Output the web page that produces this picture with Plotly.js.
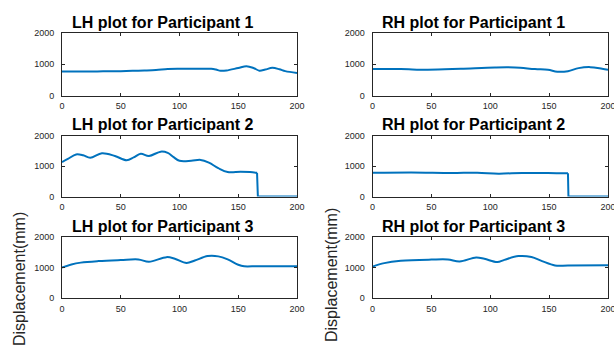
<!DOCTYPE html>
<html>
<head>
<meta charset="utf-8">
<script src="https://cdn.plot.ly/plotly-3.0.1.min.js"></script>
<style>html,body{margin:0;padding:0;background:#fff;}#chart{width:614px;height:347px;}</style>
</head>
<body>
<div id="chart"></div>
<script>
// ---- data ----
const titles = ["LH plot for Participant 1","RH plot for Participant 1",
                "LH plot for Participant 2","RH plot for Participant 2",
                "LH plot for Participant 3","RH plot for Participant 3"];
const yLabel = "Displacement(mm)";
const xTicks = [0,50,100,150,200];
const yTicks = [0,1000,2000];

const xLH1 = [0,10,20,30,40,50,60,70,80,90,100,110,120,127,131,135,140,150,157,163,168,173,179,185,190,200];
const yLH1 = [770,770,770,772,775,780,790,800,815,850,858,858,858,856,830,790,800,880,935,880,795,830,885,840,780,720];

const xRH1 = [0,24,47,75,104,121,138,149,157,166,175,185,195,200];
const yRH1 = [845,845,825,855,897,897,845,822,760,778,876,908,855,822];

const xLH2 = [0,5,12,18,24,34,45,55,61,67,74,84,90,95,100,110,118,125,133,141,152,160,166,166.7,170,200];
const yLH2 = [1130,1230,1380,1350,1270,1420,1330,1190,1280,1400,1330,1470,1430,1290,1170,1170,1200,1110,930,800,810,800,775,0,0,0];

const xRH2 = [0,33,67,89,107,127,149,166,166.4,170,200];
const yRH2 = [775,790,772,782,750,772,772,760,0,0,0];

const xLH3 = [0,8,16,31,50,65,74,89,96,106,113,124,133,141,150,155,167,200];
const yLH3 = [1000,1100,1160,1210,1245,1265,1190,1340,1290,1150,1230,1375,1365,1265,1090,1040,1045,1045];

const xRH3 = [0,10,24,50,64,74,88,95,106,112,124,135,144,155,166,200];
const yRH3 = [1030,1143,1220,1260,1264,1200,1330,1286,1178,1250,1374,1345,1210,1066,1066,1077];

const series = [[xLH1,yLH1],[xRH1,yRH1],[xLH2,yLH2],[xRH2,yRH2],[xLH3,yLH3],[xRH3,yRH3]];

// ---- layout geometry ----
const W = 614, H = 347;
const colDom = [[62/W, 297/W],[372.5/W, 608/W]];
const rowPx = [[33,95.5],[135.5,196.5],[237,298]];
const rowDom = rowPx.map(r => [1 - r[1]/H, 1 - r[0]/H]);
const titleX = [162/W, 473/W];
const titleY = [22, 124.5, 226.5].map(v => 1 - v/H);

const lineColor = '#0072BD';
const axColor = '#262626';
const font = 'Liberation Sans, Arial, Helvetica, sans-serif';

const traces = [];
const layout = {
  width: W, height: H,
  margin: {l:0, r:0, t:0, b:0},
  paper_bgcolor: '#fff', plot_bgcolor: '#fff',
  showlegend: false,
  annotations: []
};

series.forEach((s, i) => {
  const n = i + 1;
  const xa = 'x' + (n === 1 ? '' : n), ya = 'y' + (n === 1 ? '' : n);
  const xs = s[0], ys = s[1];
  const k = ys.indexOf(0);
  if (k > 0) {
    traces.push({x: xs.slice(0, k), y: ys.slice(0, k), xaxis: xa, yaxis: ya, mode: 'lines',
      line: {color: lineColor, width: 2, shape: 'spline', smoothing: 1}, hoverinfo: 'skip'});
    traces.push({x: xs.slice(k - 1), y: ys.slice(k - 1), xaxis: xa, yaxis: ya, mode: 'lines',
      line: {color: lineColor, width: 2, shape: 'linear'}, hoverinfo: 'skip'});
  } else {
    traces.push({x: xs, y: ys, xaxis: xa, yaxis: ya, mode: 'lines',
      line: {color: lineColor, width: 2, shape: 'spline', smoothing: 1}, hoverinfo: 'skip'});
  }
  const col = i % 2, row = Math.floor(i / 2);
  const common = {
    showline: true, linecolor: axColor, linewidth: 1, mirror: 'ticks',
    ticks: 'inside', ticklen: 3, tickwidth: 1, tickcolor: axColor,
    showgrid: false, zeroline: false, fixedrange: true,
    ticklabeloverflow: 'allow',
    tickfont: {family: font, size: 9, color: axColor}
  };
  layout['xaxis' + (n === 1 ? '' : n)] = Object.assign({}, common, {
    domain: colDom[col], range: [0, 200], tickvals: xTicks, ticktext: xTicks.map(String),
    anchor: ya, ticklabelstandoff: 2
  });
  layout['yaxis' + (n === 1 ? '' : n)] = Object.assign({}, common, {
    domain: rowDom[row], range: [0, 2000], tickvals: yTicks, ticktext: yTicks.map(String),
    anchor: xa, ticklabelstandoff: 5
  });
  layout.annotations.push({
    text: '<b>' + titles[i] + '</b>', xref: 'paper', yref: 'paper',
    x: titleX[col], y: titleY[row], xanchor: 'center', yanchor: 'middle',
    showarrow: false, font: {family: font, size: 16, color: '#000'}
  });
});

// y labels
[[19/W, 1 - 279/H], [331/W, 1 - 275/H]].forEach(p => {
  layout.annotations.push({
    text: yLabel, xref: 'paper', yref: 'paper', x: p[0], y: p[1],
    xanchor: 'center', yanchor: 'middle', textangle: -90, showarrow: false,
    font: {family: font, size: 16, color: axColor}
  });
});

Plotly.newPlot('chart', traces, layout, {displayModeBar: false, staticPlot: true});
</script>
</body>
</html>
